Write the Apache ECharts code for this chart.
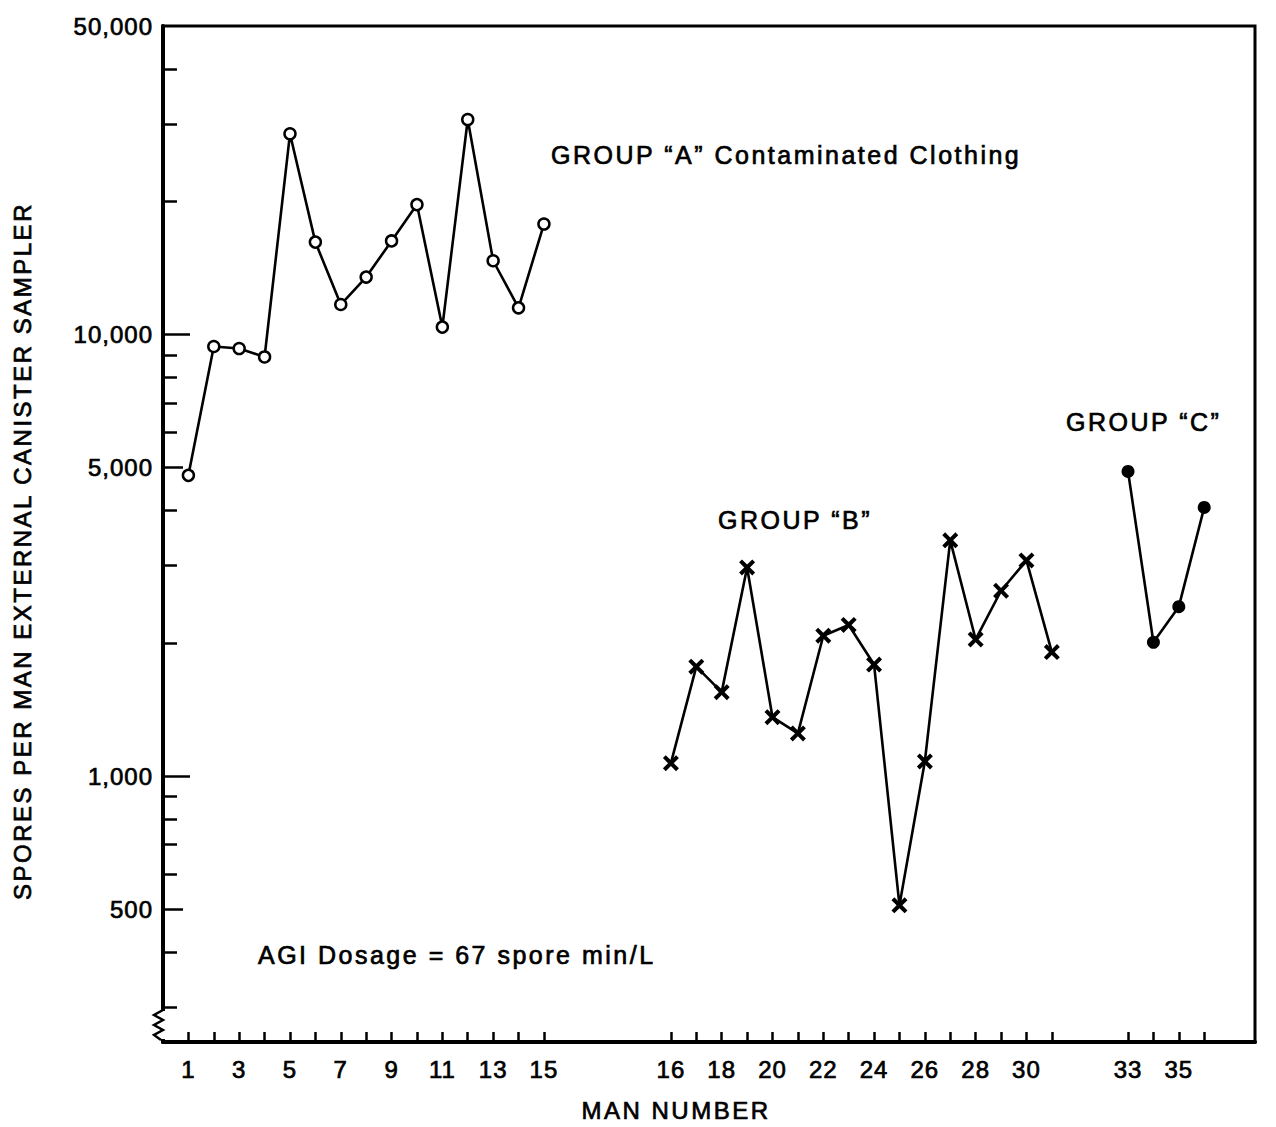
<!DOCTYPE html>
<html>
<head>
<meta charset="utf-8">
<script src="https://cdn.jsdelivr.net/npm/echarts@6/dist/echarts.min.js"></script>
<style>
html,body{margin:0;padding:0;background:#fff;}
#c{width:1276px;height:1127px;}
#c svg text{stroke:#000;stroke-width:0.7px;}
</style>
</head>
<body>
<div id="c"></div>
<script>
// ---------------- DATA ----------------
const groupA_men = [1,2,3,4,5,6,7,8,9,10,11,12,13,14,15];
const groupA_spores = [4800, 9400, 9300, 8900, 28500, 16200, 11700, 13500, 16300, 19700, 10400, 30700, 14700, 11500, 17800];

const groupB_men = [16,17,18,19,20,21,22,23,24,25,26,27,28,29,30,31];
const groupB_spores = [1070, 1770, 1550, 2970, 1360, 1250, 2080, 2200, 1790, 510, 1080, 3420, 2040, 2630, 3080, 1910];

const groupC_men = [33,34,35,36];
const groupC_spores = [4900, 2010, 2420, 4060];

const xLabelMen = [1,3,5,7,9,11,13,15,16,18,20,22,24,26,28,30,33,35];
const yLabelValues = [500, 1000, 5000, 10000, 50000];
const yMidTicks = [500, 5000];
const yMajorTicks = [1000, 10000];
const yMinorTicks = [300,400,600,700,800,900,2000,3000,4000,6000,7000,8000,9000,20000,30000,40000];

// ---------------- LAYOUT ----------------
// gaps inserted on the man-number axis between groups
const axisGaps = [{firstMan:16, shift:4}, {firstMan:33, shift:5}];
function manPos(m){ let s = 0; for (const g of axisGaps) if (m >= g.firstMan) s = g.shift; return m + s; }
const xTickMen = groupA_men.concat(groupB_men, groupC_men);
function posToMan(v){
  for (const m of xTickMen) if (Math.abs(manPos(m) - v) < 1e-6) return m;
  return '';
}

const FONT = '"Liberation Sans", Arial, Helvetica, sans-serif';
const BLACK = '#000';

const chart = echarts.init(document.getElementById('c'), null, {renderer:'svg', width:1276, height:1127});

function yFmt(v){ return v >= 1000 ? Number(v).toLocaleString('en-US') : String(v); }

const hiddenY = {
  type:'log', logBase:10, min:250, max:50000, position:'left',
  axisLine:{show:false}, axisLabel:{show:false}, splitLine:{show:false}
};

const option = {
  animation:false,
  backgroundColor:'#fff',
  grid:{left:163, top:26, width:1092, height:1016, show:true, borderColor:BLACK, borderWidth:3, backgroundColor:'transparent'},
  xAxis:[{
    type:'value', min:0, max:43, position:'bottom',
    name:'MAN NUMBER', nameLocation:'middle', nameGap:56,
    nameTextStyle:{fontFamily:FONT, fontSize:24, color:BLACK, padding:[0,66,0,0]},
    axisLine:{show:true, lineStyle:{color:BLACK, width:4}},
    axisTick:{show:true, inside:true, length:10, lineStyle:{color:BLACK, width:2.5}, customValues: xTickMen.map(manPos)},
    axisLabel:{show:true, margin:15, fontFamily:FONT, fontSize:24, color:BLACK,
      customValues: xLabelMen.map(manPos), formatter: v => String(posToMan(v))},
    splitLine:{show:false}
  }],
  yAxis:[
    {
      type:'log', logBase:10, min:250, max:50000, position:'left',
      name:'SPORES PER MAN EXTERNAL CANISTER SAMPLER', nameLocation:'middle', nameGap:129, nameRotate:90,
      nameTextStyle:{fontFamily:FONT, fontSize:24, color:BLACK, padding:[0,34,0,0]},
      axisLine:{show:true, lineStyle:{color:BLACK, width:4}},
      axisTick:{show:true, inside:true, length:27, lineStyle:{color:BLACK, width:2.5}, customValues: yMajorTicks},
      axisLabel:{show:true, margin:10, fontFamily:FONT, fontSize:24, color:BLACK, customValues: yLabelValues, formatter: yFmt},
      splitLine:{show:false}
    },
    Object.assign({}, hiddenY, {axisTick:{show:true, inside:true, length:20, lineStyle:{color:BLACK, width:2.5}, customValues: yMidTicks}}),
    Object.assign({}, hiddenY, {axisTick:{show:true, inside:true, length:14, lineStyle:{color:BLACK, width:2.5}, customValues: yMinorTicks}})
  ],
  series:[
    {
      type:'line', name:'Group A',
      data: groupA_men.map((m,i)=>[manPos(m), groupA_spores[i]]),
      symbol:'circle', symbolSize:11, showSymbol:true, showAllSymbol:true,
      itemStyle:{color:'#fff', borderColor:BLACK, borderWidth:2.5},
      lineStyle:{color:BLACK, width:2.6}
    },
    {
      type:'line', name:'Group B',
      data: groupB_men.map((m,i)=>[manPos(m), groupB_spores[i]]),
      symbol:'path://M2.5,0 L7,4.5 L11.5,0 L14,2.5 L9.5,7 L14,11.5 L11.5,14 L7,9.5 L2.5,14 L0,11.5 L4.5,7 L0,2.5 Z',
      symbolSize:16, showSymbol:true, showAllSymbol:true,
      itemStyle:{color:BLACK},
      lineStyle:{color:BLACK, width:2.6}
    },
    {
      type:'line', name:'Group C',
      data: groupC_men.map((m,i)=>[manPos(m), groupC_spores[i]]),
      symbol:'circle', symbolSize:13, showSymbol:true, showAllSymbol:true,
      itemStyle:{color:BLACK},
      lineStyle:{color:BLACK, width:2.6}
    }
  ],
  graphic:[
    {type:'text', x:551, y:155, z:100, style:{text:'GROUP \u201CA\u201D Contaminated Clothing', font:'25px '+FONT, fill:BLACK, align:'left', verticalAlign:'middle'}},
    {type:'text', x:718, y:520, z:100, style:{text:'GROUP \u201CB\u201D', font:'25px '+FONT, fill:BLACK, align:'left', verticalAlign:'middle'}},
    {type:'text', x:1066, y:422, z:100, style:{text:'GROUP \u201CC\u201D', font:'25px '+FONT, fill:BLACK, align:'left', verticalAlign:'middle'}},
    {type:'text', x:258, y:955, z:100, style:{text:'AGI Dosage = 67 spore min/L', font:'25px '+FONT, fill:BLACK, align:'left', verticalAlign:'middle'}},
    {type:'rect', z:100, shape:{x:150, y:1011, width:20, height:28}, style:{fill:'#fff'}},
    {type:'polyline', z:101, shape:{points:[[163,1010],[154,1015],[163,1020],[154,1025],[163,1030],[154,1035],[161,1040]]}, style:{stroke:BLACK, lineWidth:2.5, fill:null}}
  ]
};

chart.setOption(option);

function applySpacing(){
  document.querySelectorAll('#c svg text').forEach(t => {
    const s = (t.textContent || '').trim();
    t.style.letterSpacing = /^[\d,]+$/.test(s) ? '1px' : '2.5px';
  });
}
applySpacing();
chart.on('finished', applySpacing);
setTimeout(applySpacing, 50);
</script>
</body>
</html>
